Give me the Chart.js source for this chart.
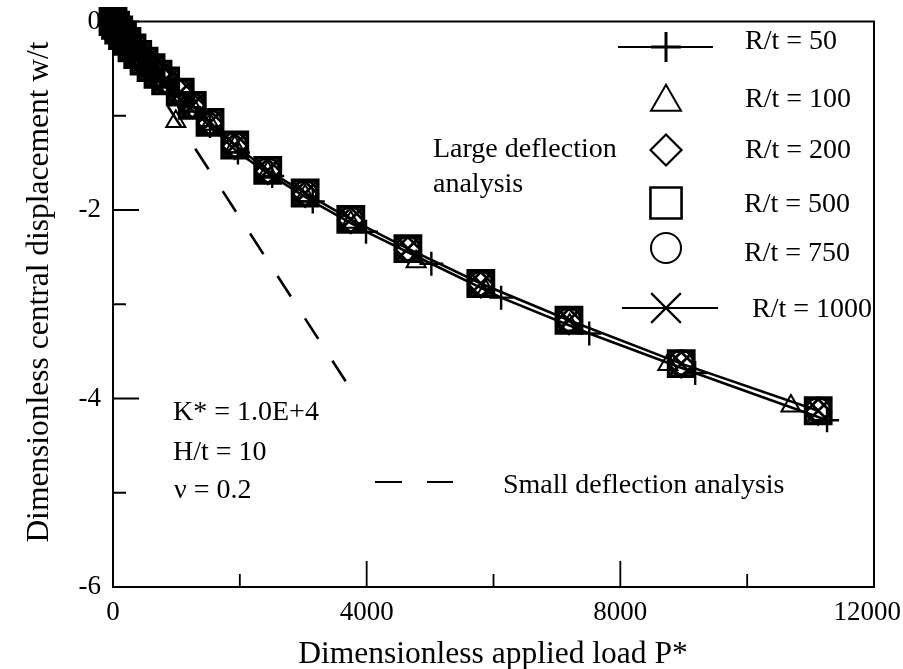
<!DOCTYPE html>
<html>
<head>
<meta charset="utf-8">
<script src="https://cdn.jsdelivr.net/npm/chart.js@4.4.0/dist/chart.umd.min.js"></script>
<style>
  html, body { margin: 0; padding: 0; background: #fff; }
  #wrap { width: 903px; height: 669px; }
</style>
</head>
<body>
<div id="wrap"><canvas id="c" width="903" height="669"></canvas></div>
<script>
// Axis ticks
const loadTicks = [0, 4000, 8000, 12000];
const loadMinorTicks = [2000, 6000, 10000];
const dispTicks = [0, -2, -4, -6];
const dispMinorTicks = [-1, -3, -5];

// Large deflection analysis, one pair of arrays per R/t ratio
const p50 = [0, 50, 110, 180, 260, 350, 460, 590, 750, 950, 1200, 1530, 1970, 2510, 3150, 3990, 5020, 6120, 7510, 9180, 11260];
const w50 = [0, -0.05, -0.11, -0.18, -0.25, -0.33, -0.42, -0.52, -0.62, -0.76, -0.91, -1.11, -1.39, -1.64, -1.91, -2.23, -2.57, -2.93, -3.31, -3.73, -4.23];

const p100 = [0, 40, 90, 150, 220, 300, 390, 490, 600, 720, 990, 1250, 1530, 1920, 2440, 3030, 3750, 4780, 5880, 7200, 8750, 10690];
const w100 = [0, -0.04, -0.09, -0.15, -0.22, -0.29, -0.36, -0.44, -0.51, -0.59, -1.06, -0.90, -1.09, -1.33, -1.60, -1.85, -2.13, -2.55, -2.86, -3.22, -3.64, -4.08];

const p200 = [0, 40, 90, 150, 220, 300, 390, 490, 600, 710, 830, 1060, 1250, 1530, 1920, 2440, 3030, 3750, 4650, 5800, 7190, 8960, 11120];
const w200 = [0, -0.04, -0.09, -0.15, -0.21, -0.28, -0.35, -0.42, -0.49, -0.56, -0.63, -0.75, -0.89, -1.08, -1.32, -1.59, -1.83, -2.11, -2.42, -2.79, -3.18, -3.64, -4.14];

const p500 = [0, 40, 90, 150, 220, 300, 390, 490, 600, 710, 830, 1060, 1250, 1530, 1920, 2440, 3030, 3750, 4650, 5800, 7190, 8960, 11120];
const w500 = [0, -0.04, -0.09, -0.15, -0.21, -0.28, -0.35, -0.42, -0.49, -0.56, -0.63, -0.75, -0.89, -1.07, -1.31, -1.58, -1.82, -2.10, -2.41, -2.78, -3.17, -3.63, -4.13];

const p750 = [0, 40, 90, 150, 220, 300, 390, 490, 600, 710, 830, 1060, 1250, 1530, 1920, 2440, 3030, 3750, 4650, 5800, 7190, 8960, 11120];
const w750 = [0, -0.04, -0.09, -0.15, -0.21, -0.28, -0.35, -0.42, -0.49, -0.56, -0.63, -0.75, -0.89, -1.07, -1.31, -1.58, -1.82, -2.10, -2.41, -2.78, -3.17, -3.62, -4.12];

const p1000 = [0, 40, 90, 150, 220, 300, 390, 490, 600, 710, 830, 1060, 1250, 1530, 1920, 2440, 3030, 3750, 4650, 5800, 7190, 8960, 11120];
const w1000 = [0, -0.04, -0.09, -0.15, -0.21, -0.28, -0.35, -0.42, -0.49, -0.56, -0.63, -0.75, -0.89, -1.07, -1.31, -1.58, -1.82, -2.10, -2.41, -2.78, -3.17, -3.63, -4.13];

// Small deflection (linear) analysis
const pSmall = [0, 3700];
const wSmall = [0, -3.85];

const SERIF = "'Liberation Serif', 'Times New Roman', serif";

function pts(px, py) { return px.map((v, i) => ({ x: v, y: py[i] })); }

function markerSet(label, px, py, style, radius, bw, line) {
  return {
    label: label,
    data: pts(px, py),
    showLine: !!line,
    borderColor: '#000',
    borderWidth: line ? 2.6 : 0,
    pointStyle: style,
    pointRadius: radius,
    pointHoverRadius: radius,
    pointBorderWidth: bw,
    pointBorderColor: '#000',
    pointBackgroundColor: 'rgba(0,0,0,0)',
    clip: false,
    tension: 0
  };
}

const datasets = [
  markerSet('R/t = 50', p50, w50, 'cross', 12, 2.4, true),
  markerSet('R/t = 100', p100, w100, 'triangle', 11, 2, false),
  markerSet('R/t = 200', p200, w200, 'rectRot', 12.5, 2.8, false),
  markerSet('R/t = 500', p500, w500, 'rect', 17.7, 3.8, false),
  markerSet('R/t = 750', p750, w750, 'circle', 12, 2.8, false),
  markerSet('R/t = 1000', p1000, w1000, 'crossRot', 15, 2.8, true),
  {
    label: 'Small deflection analysis',
    data: pts(pSmall, wSmall),
    showLine: true,
    borderColor: '#000',
    borderWidth: 2.6,
    borderDash: [24.5, 26],
    pointRadius: 0,
    pointHoverRadius: 0,
    clip: false
  }
];

// Legend entries: marker style, radius, border width, optional line through it
const legendRows = [
  { text: 'R/t = 50',   style: 'cross',    r: 15,   bw: 3,   line: [618, 713], my: 47,  ty: 49,  tx: 745 },
  { text: 'R/t = 100',  style: 'triangle', r: 17.3, bw: 2,   line: null,       my: 102, ty: 107, tx: 745 },
  { text: 'R/t = 200',  style: 'rectRot',  r: 15.5, bw: 2.2, line: null,       my: 150, ty: 158, tx: 745 },
  { text: 'R/t = 500',  style: 'rect',     r: 22,   bw: 2.6, line: null,       my: 203, ty: 212, tx: 744 },
  { text: 'R/t = 750',  style: 'circle',   r: 15,   bw: 2,   line: null,       my: 248, ty: 261, tx: 744 },
  { text: 'R/t = 1000', style: 'crossRot', r: 21,   bw: 2.2, line: [622, 718], my: 308, ty: 317, tx: 752 }
];

const frameAndTicks = {
  id: 'frameAndTicks',
  beforeDatasetsDraw(chart) {
    const ctx = chart.ctx, a = chart.chartArea;
    const xs = chart.scales.x, ys = chart.scales.y;
    ctx.save();
    ctx.strokeStyle = '#000';
    ctx.lineWidth = 2;
    ctx.strokeRect(a.left, a.top, a.right - a.left, a.bottom - a.top);
    ctx.lineWidth = 1.8;
    ctx.beginPath();
    loadTicks.forEach(v => { const px = xs.getPixelForValue(v); ctx.moveTo(px, a.bottom); ctx.lineTo(px, a.bottom - 26); });
    loadMinorTicks.forEach(v => { const px = xs.getPixelForValue(v); ctx.moveTo(px, a.bottom); ctx.lineTo(px, a.bottom - 13); });
    dispTicks.forEach(v => { const py = ys.getPixelForValue(v); ctx.moveTo(a.left, py); ctx.lineTo(a.left + 26, py); });
    dispMinorTicks.forEach(v => { const py = ys.getPixelForValue(v); ctx.moveTo(a.left, py); ctx.lineTo(a.left + 13, py); });
    ctx.stroke();

    // load-axis tick labels, kept inside the canvas at the right edge
    ctx.fillStyle = '#000';
    ctx.font = '27px ' + SERIF;
    ctx.textAlign = 'center';
    ctx.textBaseline = 'alphabetic';
    loadTicks.forEach(v => {
      const txt = String(v);
      const wdt = ctx.measureText(txt).width;
      const px = Math.min(xs.getPixelForValue(v), chart.width - 2 - wdt / 2);
      ctx.fillText(txt, px, a.bottom + 33);
    });
    ctx.restore();
  },
  afterDraw(chart) {
    const ctx = chart.ctx;
    ctx.save();
    ctx.fillStyle = '#000';
    ctx.strokeStyle = '#000';
    ctx.textBaseline = 'alphabetic';
    ctx.textAlign = 'left';

    // Legend
    ctx.font = '28px ' + SERIF;
    legendRows.forEach(row => {
      if (row.line) {
        ctx.lineWidth = 2.2;
        ctx.beginPath();
        ctx.moveTo(row.line[0], row.my);
        ctx.lineTo(row.line[1], row.my);
        ctx.stroke();
      }
      ctx.lineWidth = row.bw;
      ctx.fillStyle = 'rgba(0,0,0,0)';
      Chart.helpers.drawPoint(ctx, { pointStyle: row.style, radius: row.r, rotation: 0, borderWidth: row.bw }, 666, row.my);
      ctx.fillStyle = '#000';
      ctx.fillText(row.text, row.tx, row.ty);
    });

    // Annotations
    ctx.fillText('Large deflection', 433, 157);
    ctx.fillText('analysis', 433, 192);
    ctx.fillText('K* = 1.0E+4', 173, 420);
    ctx.fillText('H/t = 10', 173, 460);
    ctx.fillText('\u03BD = 0.2', 174, 498);

    ctx.lineWidth = 2.2;
    ctx.beginPath();
    ctx.moveTo(375, 482); ctx.lineTo(402, 482);
    ctx.moveTo(427, 482); ctx.lineTo(453, 482);
    ctx.stroke();
    ctx.fillText('Small deflection analysis', 503, 493);

    // Axis titles
    ctx.font = '31.5px ' + SERIF;
    ctx.textAlign = 'center';
    ctx.fillText('Dimensionless applied load P*', 493, 663);
    ctx.translate(48, 292);
    ctx.rotate(-Math.PI / 2);
    ctx.fillText('Dimensionless central displacement w/t', 0, 0);
    ctx.restore();
  }
};

new Chart(document.getElementById('c'), {
  type: 'scatter',
  data: { datasets: datasets },
  options: {
    responsive: false,
    animation: false,
    events: [],
    layout: { padding: { left: 0, top: 21, right: 29, bottom: 0 } },
    plugins: { legend: { display: false }, tooltip: { enabled: false } },
    scales: {
      x: {
        type: 'linear', min: 0, max: 12000,
        grid: { display: false, drawTicks: false },
        border: { display: false },
        afterBuildTicks: s => { s.ticks = loadTicks.map(v => ({ value: v })); },
        afterFit: s => { s.height = 82; s.paddingLeft = 0; s.paddingRight = 0; },
        ticks: { display: false }
      },
      y: {
        type: 'linear', min: -6, max: 0,
        grid: { display: false, drawTicks: false },
        border: { display: false },
        afterBuildTicks: s => { s.ticks = dispTicks.map(v => ({ value: v })); },
        afterFit: s => { s.width = 113; s.paddingTop = 0; s.paddingBottom = 0; },
        ticks: { color: '#000', font: { family: SERIF, size: 27 }, padding: 12, callback: v => String(v) }
      }
    }
  },
  plugins: [frameAndTicks]
});
</script>
</body>
</html>
